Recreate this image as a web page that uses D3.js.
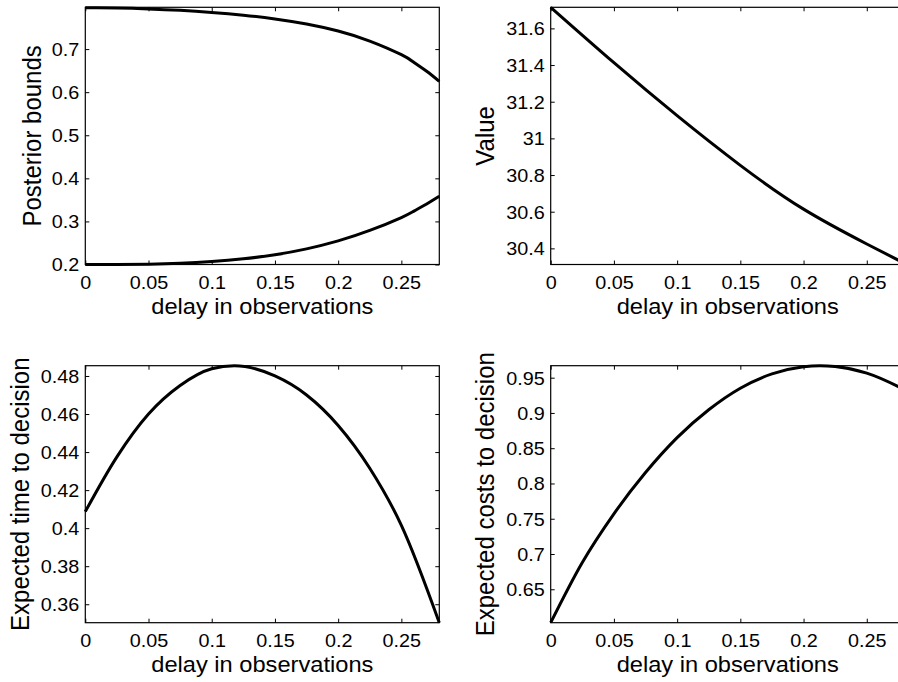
<!DOCTYPE html>
<html>
<head>
<meta charset="utf-8">
<script src="https://cdn.jsdelivr.net/npm/d3@7"></script>
<style>
  html, body { margin: 0; padding: 0; background: #fff; }
  svg { display: block; }
</style>
</head>
<body>
<svg id="chart" width="898" height="682"></svg>
<script>
// ---------------- data ----------------
const xDomain = [0, 0.28];
const xTicks = [0, 0.05, 0.1, 0.15, 0.2, 0.25];
const xTickLabels = ["0", "0.05", "0.1", "0.15", "0.2", "0.25"];
const xLabel = "delay in observations";

// Panel 1: posterior bounds
const boundsDelay = [0, 0.025, 0.05, 0.075, 0.1, 0.125, 0.15, 0.175, 0.2, 0.225, 0.25, 0.26, 0.27, 0.28];
const upperBound  = [0.7960, 0.7953, 0.7933, 0.7900, 0.7852, 0.7788, 0.7701, 0.7583, 0.7420, 0.7187, 0.6870, 0.6690, 0.6485, 0.6251];
const lowerBound  = [0.2000, 0.2001, 0.2008, 0.2028, 0.2067, 0.2131, 0.2227, 0.2363, 0.2548, 0.2790, 0.3090, 0.3240, 0.3405, 0.3583];
const boundsYDomain = [0.2, 0.797];
const boundsYTicks = [0.2, 0.3, 0.4, 0.5, 0.6, 0.7];
const boundsYTickLabels = ["0.2", "0.3", "0.4", "0.5", "0.6", "0.7"];

// Panel 2: value
const valueDelay = [0, 0.05, 0.1, 0.15, 0.2, 0.25, 0.28];
const valueY     = [31.715, 31.413, 31.124, 30.853, 30.614, 30.424, 30.318];
const valueYDomain = [30.312, 31.715];
const valueYTicks = [30.4, 30.6, 30.8, 31, 31.2, 31.4, 31.6];
const valueYTickLabels = ["30.4", "30.6", "30.8", "31", "31.2", "31.4", "31.6"];

// Panel 3: expected time to decision
const timeDelay = [0, 0.025, 0.05, 0.075, 0.1, 0.118, 0.15, 0.175, 0.2, 0.225, 0.25, 0.28];
const timeY     = [0.4087, 0.4375, 0.4600, 0.4750, 0.4838, 0.4854, 0.4800, 0.4700, 0.4540, 0.4315, 0.4015, 0.3503];
const timeYDomain = [0.3503, 0.4854];
const timeYTicks = [0.36, 0.38, 0.4, 0.42, 0.44, 0.46, 0.48];
const timeYTickLabels = ["0.36", "0.38", "0.4", "0.42", "0.44", "0.46", "0.48"];

// Panel 4: expected costs to decision
const costDelay = [0, 0.025, 0.05, 0.075, 0.1, 0.125, 0.15, 0.175, 0.2, 0.213, 0.225, 0.25, 0.275, 0.28];
const costY     = [0.6026, 0.6880, 0.7570, 0.8155, 0.8650, 0.9045, 0.9351, 0.9554, 0.9656, 0.9670, 0.9658, 0.9565, 0.9372, 0.9325];
const costYDomain = [0.6026, 0.967];
const costYTicks = [0.65, 0.7, 0.75, 0.8, 0.85, 0.9, 0.95];
const costYTickLabels = ["0.65", "0.7", "0.75", "0.8", "0.85", "0.9", "0.95"];

// ---------------- drawing ----------------
const FONT = '"Liberation Sans", Arial, Helvetica, sans-serif';
const SX = 1.1;            // horizontal stretch of the text in the reference
const svg = d3.select("#chart");

function panel(cfg) {
  const x = d3.scaleLinear().domain(xDomain).range([cfg.x0, cfg.x1]);
  const y = d3.scaleLinear().domain(cfg.yDomain).range([cfg.y1, cfg.y0]);
  const g = svg.append("g");

  const styleAxis = sel => {
    sel.select(".domain").remove();
    sel.selectAll(".tick line").attr("stroke", "#000").attr("stroke-width", 1);
    sel.attr("font-family", FONT).attr("font-size", 18);
  };

  // bottom axis with labels
  const gb = g.append("g").attr("transform", `translate(0,${cfg.y1})`)
    .call(d3.axisBottom(x).tickValues(xTicks)
      .tickFormat((d, i) => xTickLabels[i]).tickSizeInner(-4).tickSizeOuter(0));
  styleAxis(gb);
  gb.selectAll(".tick text")
    .attr("y", null).attr("dy", null)
    .attr("fill", "#000")
    .attr("text-anchor", "middle")
    .attr("transform", `translate(0,24.5) scale(${SX},1)`);

  // top axis ticks only
  const gt = g.append("g").attr("transform", `translate(0,${cfg.y0})`)
    .call(d3.axisTop(x).tickValues(xTicks).tickFormat("").tickSizeInner(-4).tickSizeOuter(0));
  styleAxis(gt);
  gt.selectAll(".tick text").remove();

  // left axis with labels
  const gl = g.append("g").attr("transform", `translate(${cfg.x0},0)`)
    .call(d3.axisLeft(y).tickValues(cfg.yTicks)
      .tickFormat((d, i) => cfg.yTickLabels[i]).tickSizeInner(-4).tickSizeOuter(0));
  styleAxis(gl);
  gl.selectAll(".tick text")
    .attr("x", null).attr("dy", "0.36em")
    .attr("fill", "#000")
    .attr("text-anchor", "end")
    .attr("transform", `translate(-6,0) scale(${SX},1)`);

  // right axis ticks only
  const gr = g.append("g").attr("transform", `translate(${cfg.x1},0)`)
    .call(d3.axisRight(y).tickValues(cfg.yTicks).tickFormat("").tickSizeInner(-4).tickSizeOuter(0));
  styleAxis(gr);
  gr.selectAll(".tick text").remove();

  // box
  g.append("rect")
    .attr("x", cfg.x0).attr("y", cfg.y0)
    .attr("width", cfg.x1 - cfg.x0).attr("height", cfg.y1 - cfg.y0)
    .attr("fill", "none").attr("stroke", "#000").attr("stroke-width", 1.2);

  // series
  const line = d3.line().x(d => x(d[0])).y(d => y(d[1])).curve(cfg.curve);
  cfg.series.forEach(s => {
    g.append("path")
      .datum(d3.zip(s.x, s.y))
      .attr("d", line)
      .attr("fill", "none")
      .attr("stroke", "#000")
      .attr("stroke-width", 3)
      .attr("stroke-linejoin", "round");
  });

  // x label
  g.append("text")
    .attr("transform", `translate(${(cfg.x0 + cfg.x1) / 2},${cfg.y1 + 49}) scale(${SX},1)`)
    .attr("text-anchor", "middle")
    .attr("font-family", FONT).attr("font-size", 21.5)
    .text(xLabel);

  // y label
  g.append("text")
    .attr("transform", `translate(${cfg.yLabelX},${(cfg.y0 + cfg.y1) / 2}) scale(${SX},1) rotate(-90)`)
    .attr("text-anchor", "middle")
    .attr("font-family", FONT).attr("font-size", 24)
    .text(cfg.yLabel);
}

const L = { x0: 85.3, x1: 439.3 };
const R = { x0: 550.7, x1: 904.7 };
const T = { y0: 7.3, y1: 264.5 };
const B = { y0: 365.7, y1: 622.7 };

panel({ ...L, ...T, yDomain: boundsYDomain, yTicks: boundsYTicks, yTickLabels: boundsYTickLabels,
  yLabel: "Posterior bounds", yLabelX: L.x0 - 44.3, curve: d3.curveNatural,
  series: [{ x: boundsDelay, y: upperBound }, { x: boundsDelay, y: lowerBound }] });

panel({ ...R, ...T, yDomain: valueYDomain, yTicks: valueYTicks, yTickLabels: valueYTickLabels,
  yLabel: "Value", yLabelX: R.x0 - 56.7, curve: d3.curveNatural,
  series: [{ x: valueDelay, y: valueY }] });

panel({ ...L, ...B, yDomain: timeYDomain, yTicks: timeYTicks, yTickLabels: timeYTickLabels,
  yLabel: "Expected time to decision", yLabelX: L.x0 - 56.7, curve: d3.curveMonotoneX,
  series: [{ x: timeDelay, y: timeY }] });

panel({ ...R, ...B, yDomain: costYDomain, yTicks: costYTicks, yTickLabels: costYTickLabels,
  yLabel: "Expected costs to decision", yLabelX: R.x0 - 56.7, curve: d3.curveMonotoneX,
  series: [{ x: costDelay, y: costY }] });
</script>
</body>
</html>
